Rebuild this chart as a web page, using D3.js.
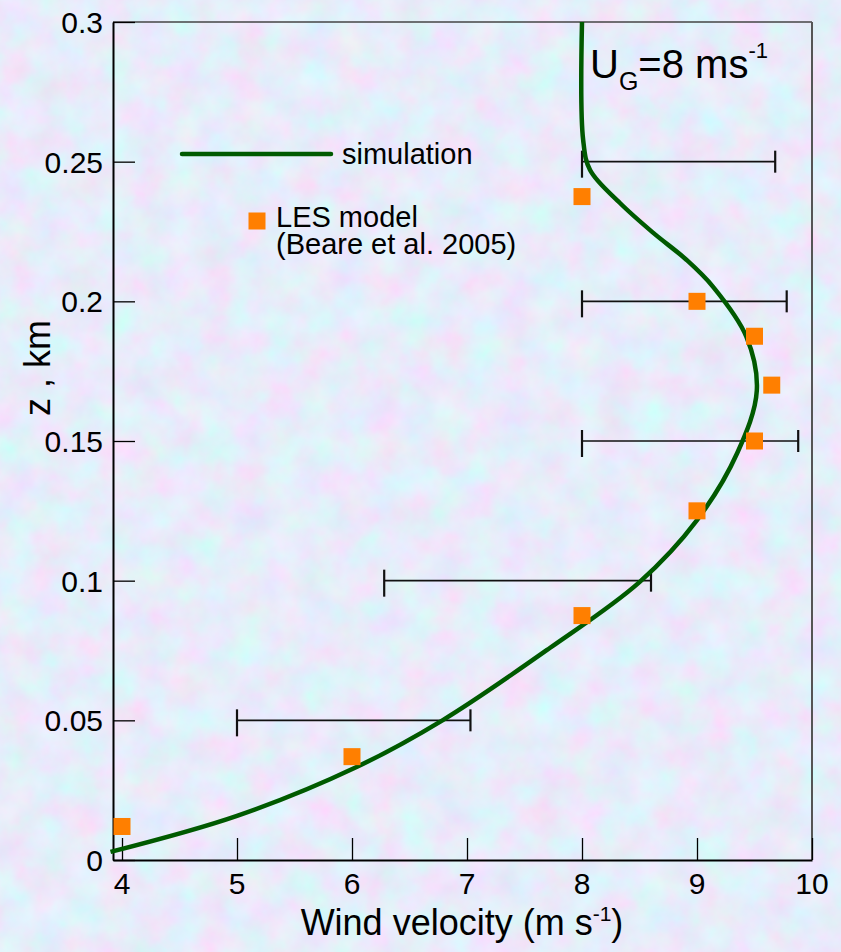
<!DOCTYPE html>
<html>
<head>
<meta charset="utf-8">
<script src="https://cdn.jsdelivr.net/npm/d3@7"></script>
<style>
  body { margin: 0; padding: 0; overflow: hidden; }
  svg { display: block; font-family: "Liberation Sans", Arial, sans-serif; }
</style>
</head>
<body>
<div id="chart"></div>
<script>
// simulated wind profile (wind velocity, height in km)
var simU = [3.90, 5.0, 6.04, 6.79, 7.72, 8.50, 9.0, 9.35, 9.52, 9.43, 9.14, 8.91, 8.62, 8.33, 8.07, 8.01, 8.0];
var simZ = [0.0029, 0.0158, 0.0333, 0.0501, 0.0759, 0.0995, 0.1217, 0.1457, 0.168, 0.1873, 0.2052, 0.2148, 0.2245, 0.2352, 0.247, 0.2578, 0.3];

// LES model points
var lesU = [4.0, 6.0, 8.0, 9.0, 9.5, 9.65, 9.5, 9.0, 8.0];
var lesZ = [0.012, 0.037, 0.0875, 0.125, 0.15, 0.17, 0.1875, 0.2, 0.2375];

// error bars
var barZ = [0.05, 0.1, 0.15, 0.2, 0.25];
var barLo = [5.0, 6.28, 8.0, 8.0, 8.0];
var barHi = [7.03, 8.6, 9.88, 9.78, 9.68];

var xTicks = [4, 5, 6, 7, 8, 9, 10];
var yTicks = [0, 0.05, 0.1, 0.15, 0.2, 0.25, 0.3];

var width = 841, height = 952;
var plotL = 113, plotR = 812, plotT = 22, plotB = 860;

var svg = d3.select("#chart").append("svg")
  .attr("width", width)
  .attr("height", height);

// textured background
var defs = svg.append("defs");
var filt = defs.append("filter").attr("id", "tex")
  .attr("x", 0).attr("y", 0).attr("width", "100%").attr("height", "100%");
filt.append("feTurbulence")
  .attr("type", "fractalNoise")
  .attr("baseFrequency", "0.03")
  .attr("numOctaves", 4)
  .attr("seed", 7);
filt.append("feColorMatrix")
  .attr("type", "matrix")
  .attr("values", "0.35 -0.2 0 0 0.725  -0.15 0.3 0 0 0.765  0 0 0.15 0 0.88  0 0 0 0 1");

svg.append("rect").attr("width", width).attr("height", height).attr("fill", "#c9d8f4");
svg.append("rect").attr("width", width).attr("height", height)
  .attr("filter", "url(#tex)");

var x = d3.scaleLinear().domain([4 - 9 / 115, 10]).range([plotL, plotR]);
var y = d3.scaleLinear().domain([0, 0.3]).range([plotB, plotT]);

// frame
svg.append("line").attr("x1", plotL).attr("x2", plotR).attr("y1", plotT).attr("y2", plotT)
  .attr("stroke", "#444").attr("stroke-width", 1.5);
svg.append("line").attr("x1", plotR).attr("x2", plotR).attr("y1", plotT).attr("y2", plotB)
  .attr("stroke", "#555").attr("stroke-width", 2);

// axes with inward ticks
var xAxis = svg.append("g")
  .attr("transform", "translate(0," + plotB + ")")
  .call(d3.axisTop(x).tickValues(xTicks).tickSize(22).tickSizeOuter(0).tickFormat(""));
var yAxis = svg.append("g")
  .attr("transform", "translate(" + plotL + ",0)")
  .call(d3.axisRight(y).tickValues(yTicks).tickSize(22).tickSizeOuter(0).tickFormat(""));
[xAxis, yAxis].forEach(function(ax) {
  ax.select(".domain").attr("stroke", "#000").attr("stroke-width", 2);
  ax.selectAll(".tick line").attr("stroke", "#000").attr("stroke-width", 1.3);
});

// tick labels
svg.append("g").selectAll("text")
  .data(xTicks)
  .enter()
  .append("text")
  .attr("x", d => x(d))
  .attr("y", 894)
  .attr("text-anchor", "middle")
  .style("font-size", "30px")
  .text(d => d);

svg.append("g").selectAll("text")
  .data(yTicks)
  .enter()
  .append("text")
  .attr("x", 103)
  .attr("y", d => y(d) + 11)
  .attr("text-anchor", "end")
  .style("font-size", "30px")
  .text(d => d);

// axis titles
var xt = svg.append("text")
  .attr("x", 462)
  .attr("y", 935)
  .attr("text-anchor", "middle")
  .style("font-size", "36px");
xt.append("tspan").text("Wind velocity (m s");
xt.append("tspan").attr("dy", -14).style("font-size", "21px").text("-1");
xt.append("tspan").attr("dy", 14).text(")");

svg.append("text")
  .attr("transform", "translate(50,368) rotate(-90)")
  .attr("text-anchor", "middle")
  .style("font-size", "36px")
  .text("z , km");

// error bars
var bars = svg.append("g").selectAll("g")
  .data(barZ)
  .enter()
  .append("g");
bars.append("line")
  .attr("x1", (d, i) => x(barLo[i]))
  .attr("x2", (d, i) => x(barHi[i]))
  .attr("y1", d => y(d))
  .attr("y2", d => y(d))
  .attr("stroke", "#111")
  .attr("stroke-width", 1.6);
bars.append("line")
  .attr("x1", (d, i) => x(barLo[i]))
  .attr("x2", (d, i) => x(barLo[i]))
  .attr("y1", d => y(d) - 11)
  .attr("y2", d => y(d) + 16)
  .attr("stroke", "#111")
  .attr("stroke-width", 2.2);
bars.append("line")
  .attr("x1", (d, i) => x(barHi[i]))
  .attr("x2", (d, i) => x(barHi[i]))
  .attr("y1", d => y(d) - 11)
  .attr("y2", d => y(d) + 11)
  .attr("stroke", "#111")
  .attr("stroke-width", 2.2);

// simulation curve
var line = d3.line()
  .x(d => x(d[0]))
  .y(d => y(d[1]))
  .curve(d3.curveCatmullRom.alpha(0.5));
svg.append("path")
  .datum(simU.map((u, i) => [u, simZ[i]]))
  .attr("d", line)
  .attr("fill", "none")
  .attr("stroke", "#005a00")
  .attr("stroke-width", 4.5);

// LES points
var sq = 17;
svg.append("g").selectAll("rect")
  .data(lesU)
  .enter()
  .append("rect")
  .attr("x", d => x(d) - sq / 2)
  .attr("y", (d, i) => y(lesZ[i]) - sq / 2)
  .attr("width", sq)
  .attr("height", sq)
  .attr("fill", "#ff7f00");

// legend
svg.append("line")
  .attr("x1", 182).attr("x2", 331).attr("y1", 154).attr("y2", 154)
  .attr("stroke", "#005a00").attr("stroke-width", 4.5).attr("stroke-linecap", "round");
svg.append("text").attr("x", 342).attr("y", 164).style("font-size", "29px").text("simulation");
svg.append("rect").attr("x", 257 - sq / 2).attr("y", 221 - sq / 2)
  .attr("width", sq).attr("height", sq).attr("fill", "#ff7f00");
var les = svg.append("text").attr("x", 276).attr("y", 227).style("font-size", "29px");
les.append("tspan").text("LES model");
les.append("tspan").attr("x", 276).attr("dy", 27).text("(Beare et al. 2005)");

// annotation
var ann = svg.append("text").attr("x", 590).attr("y", 78).style("font-size", "40px");
ann.append("tspan").text("U");
ann.append("tspan").attr("dy", 12).style("font-size", "25px").text("G");
ann.append("tspan").attr("dy", -12).text("=8 ms");
ann.append("tspan").attr("dy", -20).style("font-size", "22px").text("-1");
</script>
</body>
</html>
